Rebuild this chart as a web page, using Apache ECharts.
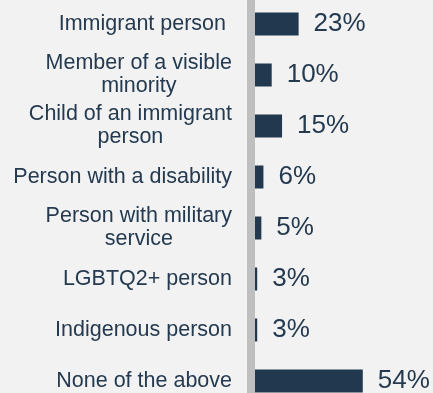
<!DOCTYPE html>
<html>
<head>
<meta charset="utf-8">
<script src="https://cdn.jsdelivr.net/npm/echarts@6/dist/echarts.min.js"></script>
<style>
  html, body { margin: 0; padding: 0; background: #f2f2f2; }
  #chart { width: 433px; height: 393px; }
</style>
</head>
<body>
<div id="chart"></div>
<script>
// Identity groups (top to bottom) and share of respondents, in percent
const categories = [
  'Immigrant person ',
  'Member of a visible\nminority',
  'Child of an immigrant\nperson',
  'Person with a disability',
  'Person with military\nservice',
  'LGBTQ2+ person',
  'Indigenous person',
  'None of the above'
];
const shares = [23, 10, 15, 6, 5, 3, 3, 54];

const navy = '#22384f';
const textColor = '#243a50';
const fontFamily = 'Liberation Sans, Arial, Helvetica, sans-serif';

const chart = echarts.init(document.getElementById('chart'), null, { renderer: 'canvas' });
chart.setOption({
  backgroundColor: '#f2f2f2',
  animation: false,
  grid: {
    left: 251,
    right: 57.8,
    top: -1.5,
    bottom: -13.5,
    containLabel: false,
    outerBoundsMode: 'none'
  },
  xAxis: {
    type: 'value',
    min: 0,
    max: 60,
    show: false
  },
  yAxis: {
    type: 'category',
    data: categories,
    inverse: true,
    z: 5,
    axisLine: { show: true, lineStyle: { color: '#bfbfbf', width: 8 } },
    axisTick: { show: false },
    splitLine: { show: false },
    axisLabel: {
      margin: 19,
      align: 'right',
      fontFamily: fontFamily,
      fontSize: 21.5,
      color: textColor,
      lineHeight: 23,
      formatter: function (value) {
        return value.split('\n').map(function (line) {
          return '{c|' + line + '}';
        }).join('\n');
      },
      rich: {
        c: {
          align: 'center',
          fontFamily: fontFamily,
          fontSize: 21.5,
          color: textColor,
          lineHeight: 23
        }
      }
    }
  },
  series: [{
    type: 'bar',
    data: shares,
    barWidth: 23,
    itemStyle: { color: navy },
    label: {
      show: true,
      position: 'right',
      distance: 15,
      fontFamily: fontFamily,
      fontSize: 26,
      color: textColor,
      formatter: '{c}%'
    }
  }]
});
</script>
</body>
</html>
